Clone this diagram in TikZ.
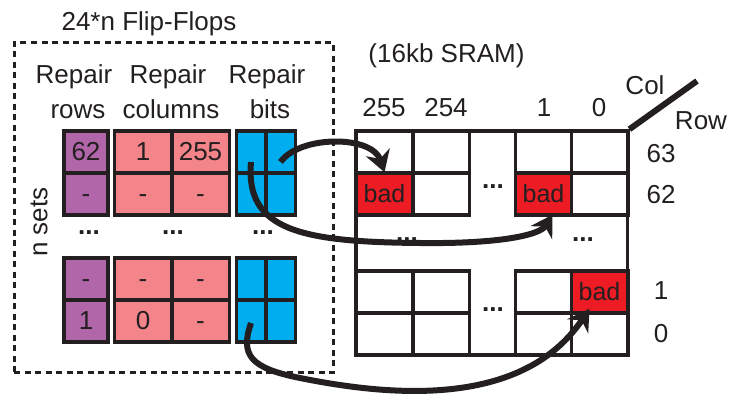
\documentclass[tikz,border=0pt]{standalone}
\usepackage{fontspec}
\setmainfont{Liberation Sans}
\usetikzlibrary{arrows.meta}
\definecolor{inkc}{HTML}{231F20}
\definecolor{rowc}{HTML}{B166A9}
\definecolor{colc}{HTML}{F3848A}
\definecolor{bitc}{HTML}{00AEEF}
\definecolor{badc}{HTML}{ED1C24}
\tikzset{
  lbl/.style={font=\fontsize{26}{30}\selectfont, text=inkc, inner sep=0pt, anchor=base},
  dots/.style={lbl, font=\fontsize{26}{30}\selectfont\bfseries, anchor=center},
  cell/.style={draw=inkc, line width=3.5pt, inner sep=0pt, minimum height=42pt, font=\fontsize{26}{30}\selectfont, text=inkc, text height=18pt, text depth=0pt},
  rowcell/.style={cell, fill=rowc, minimum width=44pt},
  colcell/.style={cell, fill=colc, minimum width=57.5pt},
  bitcell/.style={cell, fill=bitc, minimum width=29.5pt},
  memcell/.style={cell, fill=white, minimum width=56.5pt},
  badcell/.style={memcell, fill=badc, font=\fontsize{25}{30}\selectfont},
  repair/.style={line width=6pt, draw=inkc, -{Stealth[length=21pt,width=25pt,inset=7pt]}},
}
\begin{document}
\begin{tikzpicture}[x=1pt,y=-1pt]
\useasboundingbox (0,0) rectangle (729,395);
\node[draw=inkc, line width=3pt, dash pattern=on 6pt off 4.5pt, minimum width=319pt, minimum height=330pt, inner sep=0pt] (ffbox) at (173.5,208) {};
\node[lbl] (fftitle) at (149,31) {24*n Flip-Flops};
\node[lbl] (hrowA) at (74,84) {Repair}; \node[lbl] (hrowB) at (78,119) {rows};
\node[lbl] (hcolA) at (168,84) {Repair}; \node[lbl] (hcolB) at (171,119) {columns};
\node[lbl] (hbitA) at (267,84) {Repair}; \node[lbl] (hbitB) at (270,119) {bits};
\node[lbl, rotate=90, anchor=center] (nsets) at (39,222) {n sets};
\node[rowcell] (r1) at (86,152) {62}; \node[rowcell] (r2) at (86,194) {-};
\node[rowcell] (r3) at (86,279) {-}; \node[rowcell] (r4) at (86,321) {1};
\node[colcell] (c1a) at (143,152) {1}; \node[colcell] (c1b) at (200.5,152) {255};
\node[colcell] (c2a) at (143,194) {-}; \node[colcell] (c2b) at (200.5,194) {-};
\node[colcell] (c3a) at (143,279) {-}; \node[colcell] (c3b) at (200.5,279) {-};
\node[colcell] (c4a) at (143,321) {0}; \node[colcell] (c4b) at (200.5,321) {-};
\node[bitcell] (b1l) at (251,152) {}; \node[bitcell] (b1r) at (280.5,152) {};
\node[bitcell] (b2l) at (251,194) {}; \node[bitcell] (b2r) at (280.5,194) {};
\node[bitcell] (b3l) at (251,279) {}; \node[bitcell] (b3r) at (280.5,279) {};
\node[bitcell] (b4l) at (251,321) {}; \node[bitcell] (b4r) at (280.5,321) {};
\node[dots] (dotsR) at (89,233) {...};
\node[dots] (dotsC) at (173,233) {...};
\node[dots] (dotsB) at (263,233) {...};
\node[lbl] (sramtitle) at (446.5,63) {(16kb SRAM)};
\node[draw=inkc, line width=3.5pt, minimum width=271.5pt, minimum height=224pt, inner sep=0pt] (sram) at (491.9,243) {};
\node[memcell] (m63a) at (384.5,152) {}; \node[memcell] (m63b) at (441,152) {};
\node[memcell] (m63c) at (543.5,152) {}; \node[memcell] (m63d) at (599.5,152) {};
\node[badcell] (bad255) at (384.5,194) {bad}; \node[memcell] (m62b) at (441,194) {};
\node[badcell] (bad1) at (543.5,194) {bad}; \node[memcell] (m62d) at (599.5,194) {};
\node[memcell] (m1a) at (384.5,292) {}; \node[memcell] (m1b) at (441,292) {};
\node[memcell] (m1c) at (543.5,292) {}; \node[badcell] (bad0) at (599.5,292) {bad};
\node[memcell] (m0a) at (384.5,334) {}; \node[memcell] (m0b) at (441,334) {};
\node[memcell] (m0c) at (543.5,334) {}; \node[memcell] (m0d) at (599.5,334) {};
\node[dots] (dotsTop) at (493,187) {...};
\node[dots] (dotsMidL) at (407,240) {...};
\node[dots] (dotsMidR) at (583,240) {...};
\node[dots] (dotsBot) at (493,310) {...};
\node[lbl] (col255) at (384,117) {255}; \node[lbl] (col254) at (446,117) {254};
\node[lbl] (col1) at (544,117) {1}; \node[lbl] (col0) at (599,117) {0};
\node[lbl] (row63) at (661,163) {63}; \node[lbl] (row62) at (661,204) {62};
\node[lbl] (row1) at (661,300) {1}; \node[lbl] (row0) at (661,343) {0};
\coordinate (axisend) at (697,81);
\draw[line width=6pt, draw=inkc] (sram.north east) -- (axisend);
\node[lbl] (collbl) at (645,95) {Col};
\node[lbl] (rowlbl) at (701,130) {Row};
\draw[repair] ([yshift=-10pt]b1r.center) .. controls (300,135) and (372,135) .. ([yshift=-1pt]bad255.north);
\draw[repair] ([yshift=-10pt]b1l.center) .. controls (245,230) and (300,242) .. (420,243) .. controls (500,244) and (540,235) .. ([xshift=9pt,yshift=2pt]bad1.south);
\draw[repair] ([yshift=-2pt]b4l.center) .. controls (240,355) and (250,368) .. (300,378) .. controls (380,394) and (520,412) .. ([xshift=-10pt,yshift=6pt]bad0.south);
\end{tikzpicture}
\end{document}
